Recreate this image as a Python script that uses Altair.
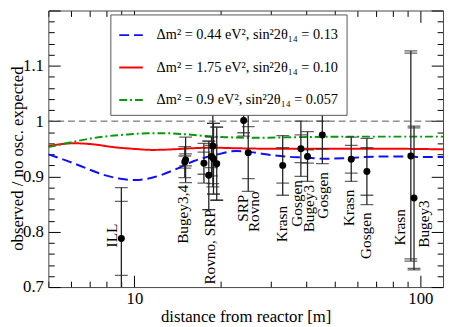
import altair as alt
import pandas as pd

FONT = "Liberation Serif"

# ---------------- model curves ----------------
blue_d = [5.0, 6.05, 6.92, 7.92, 8.92, 10.04, 11.77, 13.79, 16.16, 18.93, 22.72, 25.58, 28.81, 33.76, 39.55, 46.3, 54.3, 63.6, 74.6, 87.4, 102.4, 120.0]
blue_v = [0.940, 0.925, 0.913, 0.902, 0.896, 0.8935, 0.899, 0.912, 0.928, 0.938, 0.946, 0.944, 0.940, 0.936, 0.934, 0.932, 0.933, 0.935, 0.936, 0.936, 0.935, 0.935]

red_d = [5.0, 6.14, 7.20, 8.44, 9.88, 11.58, 13.57, 15.90, 18.63, 22.72, 31.18, 46.3, 80.7, 120.0]
red_v = [0.955, 0.960, 0.958, 0.953, 0.950, 0.948, 0.949, 0.951, 0.952, 0.951, 0.950, 0.950, 0.950, 0.949]

green_d = [5.0, 5.91, 6.92, 8.11, 9.50, 11.13, 13.04, 15.29, 17.91, 20.98, 26.62, 36.53, 54.3, 80.7, 120.0]
green_v = [0.953, 0.961, 0.968, 0.973, 0.976, 0.978, 0.978, 0.976, 0.973, 0.971, 0.970, 0.971, 0.972, 0.972, 0.972]

models = [
    "\u0394m\u00b2 = 0.44 eV\u00b2, sin\u00b22\u03b8\u2081\u2084 = 0.13",
    "\u0394m\u00b2 = 1.75 eV\u00b2, sin\u00b22\u03b8\u2081\u2084 = 0.10",
    "\u0394m\u00b2 = 0.9 eV\u00b2, sin\u00b22\u03b8\u2081\u2084 = 0.057",
]
model_colors = ["#0f0fff", "#ff0000", "#0a990a"]
model_dashes = [[10, 5], [1, 0], [8, 3, 2, 3]]

# ---------------- reactor data points ----------------
exp_name = ["ILL", "Bugey4", "Bugey3-I", "Rovno91", "SRP-I", "Rovno88-1I", "Rovno88-2I",
            "Rovno88-1S", "Rovno88-3S", "SRP-II", "Rovno88-2S", "Krasn-I", "Gosgen-I",
            "Bugey3-II", "Gosgen-II", "Krasn-III", "Gosgen-III", "Krasn-II", "Bugey3-III"]
exp_dist = [9.0, 15.0, 15.1, 17.5, 18.6, 18.2, 18.9, 18.8, 19.4, 24.1, 25.0, 33.0, 38.2,
            40.3, 45.4, 57.3, 65.0, 92.6, 95.0]
exp_ratio = [0.788, 0.926, 0.930, 0.924, 0.936, 0.902, 0.932, 0.955, 0.923, 1.001, 0.943,
             0.920, 0.950, 0.936, 0.975, 0.931, 0.909, 0.937, 0.861]
err_inner = [0.067, 0.011, 0.011, 0.020, 0.020, 0.062, 0.064, 0.068, 0.066, 0.022, 0.047,
             0.032, 0.025, 0.012, 0.025, 0.025, 0.043, 0.186, 0.127]
err_outer = [0.092, 0.028, 0.041, 0.036, 0.035, 0.062, 0.064, 0.074, 0.066, 0.028, 0.070,
             0.054, 0.050, 0.045, 0.052, 0.040, 0.060, 0.190, 0.130]

# ---------------- rotated experiment labels ----------------
lbl_text = ["ILL", "Bugey3,4", "Rovno, SRP", "SRP", "Rovno", "Krasn", "Gosgen", "Bugey3",
            "Gosgen", "Krasn", "Gosgen", "Krasn", "Bugey3"]
lbl_x = [8.32, 14.81, 18.38, 23.95, 26.26, 32.71, 37.04, 40.9, 45.7, 56.5, 64.5, 84.6, 102.9]
lbl_y = [0.8146, 0.8847, 0.8409, 0.867, 0.873, 0.8468, 0.8935, 0.8847, 0.908, 0.876, 0.835,
         0.841, 0.857]

# ---------------- axis ticks ----------------
x_ticks = [5, 6, 7, 8, 9, 10, 20, 30, 40, 50, 60, 70, 80, 90, 100]
x_labels = [10, 100]
y_ticks = [round(0.7 + 0.02 * i, 2) for i in range(26)]
y_labels = [0.7, 0.8, 0.9, 1.0, 1.1]

# ---------------- tables ----------------
curves = pd.concat([
    pd.DataFrame({"d": blue_d, "v": blue_v, "model": models[0]}),
    pd.DataFrame({"d": red_d, "v": red_v, "model": models[1]}),
    pd.DataFrame({"d": green_d, "v": green_v, "model": models[2]}),
], ignore_index=True)

pts = pd.DataFrame({"name": exp_name, "d": exp_dist, "r": exp_ratio,
                    "ei": err_inner, "eo": err_outer})
pts["lo_o"] = pts["r"] - pts["eo"]
pts["hi_o"] = pts["r"] + pts["eo"]
pts["lo_i"] = pts["r"] - pts["ei"]
pts["hi_i"] = pts["r"] + pts["ei"]
caps = pts.melt(id_vars=["name", "d"], value_vars=["lo_o", "hi_o", "lo_i", "hi_i"],
                var_name="kind", value_name="y")

labels = pd.DataFrame({"t": lbl_text, "d": lbl_x, "y": lbl_y})

xscale = alt.Scale(type="log", domain=[5, 120], nice=False)
yscale = alt.Scale(domain=[0.7, 1.2], nice=False, zero=False)

x_major_test = " || ".join(f"datum.value == {v}" for v in x_labels)
y_major_test = "abs(datum.value*10 - round(datum.value*10)) < 0.001"
y_label_test = " || ".join(f"abs(datum.value - {v}) < 0.001" for v in y_labels)

common_axis = dict(grid=False, domainColor="#444", domainWidth=1, tickColor="#000",
                   tickWidth=1, labelFont=FONT, labelFontSize=17, labelColor="#000",
                   titleFont=FONT, titleFontSize=17, titleFontWeight="normal",
                   titleColor="#000")

x_bottom = alt.Axis(orient="bottom", values=x_ticks,
                    labelExpr=f"({x_major_test}) ? format(datum.value, 'd') : ''",
                    tickSize={"condition": {"test": x_major_test, "value": -12}, "value": -6},
                    labelPadding=16, title="distance from reactor [m]",
                    titleY=35, titleBaseline="alphabetic", labelFlush=False,
                    labelOverlap=False, **common_axis)
y_left = alt.Axis(orient="left", values=y_ticks,
                  labelExpr=f"({y_label_test}) ? format(datum.value, '~g') : ''",
                  tickSize={"condition": {"test": y_major_test, "value": -12}, "value": -6},
                  labelPadding=17, title="observed / no osc. expected",
                  titleX=-26, titleY=150, titleBaseline="alphabetic", labelFlush=False,
                  labelOverlap=False, **common_axis)
x_top = alt.Axis(orient="top", values=x_ticks, labels=False, title=None,
                 tickSize={"condition": {"test": x_major_test, "value": -12}, "value": -6},
                 **common_axis)
y_right = alt.Axis(orient="right", values=y_ticks, labels=False, title=None,
                   tickSize={"condition": {"test": y_major_test, "value": -12}, "value": -6},
                   **common_axis)

legend = alt.Legend(title=None, orient="none", legendX=63, legendY=4,
                    symbolType="stroke", symbolSize=576, symbolStrokeWidth=2,
                    labelFont=FONT, labelFontSize=14.5, labelColor="#000",
                    labelOffset=13, rowPadding=13, padding=8, strokeColor="#555",
                    fillColor="white", labelLimit=400)

one_line = alt.Chart(pd.DataFrame({"y": [1.0]})).mark_rule(
    strokeDash=[7, 4], color="#555", strokeWidth=1
).encode(y=alt.Y("y:Q", scale=yscale, axis=None))

curve_layer = alt.Chart(curves).mark_line(strokeWidth=2, clip=True, interpolate="monotone").encode(
    x=alt.X("d:Q", scale=xscale, axis=x_top),
    y=alt.Y("v:Q", scale=yscale, axis=y_right),
    color=alt.Color("model:N", scale=alt.Scale(domain=models, range=model_colors), legend=legend),
    strokeDash=alt.StrokeDash("model:N", scale=alt.Scale(domain=models, range=model_dashes), legend=legend),
)

bars = alt.Chart(pts).mark_rule(color="#222", strokeWidth=1.3, clip=True).encode(
    x=alt.X("d:Q", scale=xscale, axis=None),
    y=alt.Y("lo_o:Q", scale=yscale, axis=None),
    y2="hi_o:Q",
)

cap_layer = alt.Chart(caps).mark_tick(color="#222", orient="horizontal", size=13,
                                      thickness=1.3, clip=True).encode(
    x=alt.X("d:Q", scale=xscale, axis=None),
    y=alt.Y("y:Q", scale=yscale, axis=None),
)

dots = alt.Chart(pts).mark_circle(size=50, color="#000", opacity=1).encode(
    x=alt.X("d:Q", scale=xscale, axis=x_bottom),
    y=alt.Y("r:Q", scale=yscale, axis=y_left),
)

texts = alt.Chart(labels).mark_text(angle=270, align="right", baseline="middle",
                                     font=FONT, fontSize=15.5, color="#000").encode(
    x=alt.X("d:Q", scale=xscale, axis=None),
    y=alt.Y("y:Q", scale=yscale, axis=None),
    text="t:N",
)

chart = alt.layer(one_line, curve_layer, bars, cap_layer, dots, texts).resolve_axis(
    x="independent", y="independent"
).properties(
    width=401, height=281,
    autosize=alt.AutoSizeParams(type="none"),
    padding={"left": 41, "top": 0, "right": 2, "bottom": 38},
).configure_view(stroke=None)

chart.save("out.html", embed_options={"renderer": "svg", "actions": False})
